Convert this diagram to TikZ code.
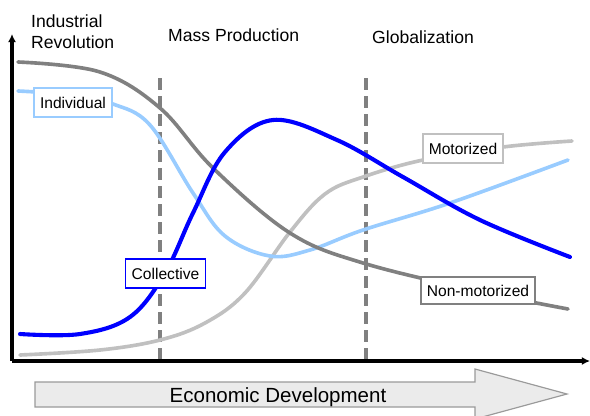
\documentclass[tikz,border=0pt]{standalone}
\usepackage{fontspec}
\setmainfont{Liberation Sans}
\usetikzlibrary{calc}
\usetikzlibrary{arrows.meta}
\definecolor{darkgrey}{HTML}{808080}
\definecolor{lightgrey}{HTML}{C0C0C0}
\definecolor{lightblue}{HTML}{99CCFF}
\definecolor{arrowgrey}{HTML}{9A9A9A}
\definecolor{arrowfill}{HTML}{EBEBEB}

\begin{document}
\begin{tikzpicture} [x=0.03cm, y=-0.03cm,
  curve/.style={line width=3.1pt, smooth, tension=0.6, line cap=round},
  lab/.style={line width=1.6pt, fill=white, inner xsep=5.3pt, minimum height=0.85cm, font=\fontsize{13.3}{16}\selectfont},
  head/.style={inner sep=0, anchor=base west, font=\fontsize{15}{17}\selectfont},
  era/.style={darkgrey, line width=3pt, dash pattern=on 0.36cm off 0.18cm}]
\useasboundingbox (0,0) rectangle (590,415);

\node[head] (indrev) at (31,27) {Industrial};
\node[head] (revol) at (31,48) {Revolution};
\node[head] (mass) at (168,41) {Mass Production};
\node[head] (glob) at (372,43) {Globalization};

\coordinate (o) at (12,361);
\coordinate (era1) at (160,78);
\coordinate (era2) at (366,78);
\draw[era] (era1) -- (era1 |- o);
\draw[era] (era2) -- (era2 |- o);

\draw[lightgrey, curve] plot coordinates {(20,355) (100,350) (160,340) (205,323) (245,293) (290,232) (325,194) (363,177) (423,160) (503,147) (572,141)};
\draw[lightblue, curve] plot coordinates {(18,91) (73,95) (113,104) (150,125) (193,193) (225,236) (270,256) (310,250) (363,230) (450,203) (568,160)};
\draw[darkgrey, curve] plot coordinates {(18,62) (100,72) (160,108) (213,168) (290,233) (363,263) (478,291) (568,309)};
\draw[blue, curve, line width=3.5pt] plot coordinates {(20,334) (80,334) (130,317) (165,273) (193,213) (225,152) (273,120) (337,140) (403,177) (480,220) (570,257)};

\node[lab, draw=lightblue] (individual) at (73,102.5) {Individual};
\node[lab, draw=blue] (collective) at (165.5,273.5) {Collective};
\node[lab, draw=lightgrey] (motorized) at (463,148.5) {Motorized};
\node[lab, draw=darkgrey, minimum height=0.81cm] (nonmotor) at (478,290.5) {Non-motorized};

\draw[black, line width=2.6pt, -{Latex[length=7pt,width=7pt]}] (o) -- (12,34);
\draw[black, line width=2.6pt, -{Latex[length=7pt,width=7pt]}] (o) -- (590,361);

\draw[arrowgrey, fill=arrowfill, line width=1pt] (35,382) -- (475,382) -- (475,369) -- (567,394) -- (475,419) -- (475,407) -- (35,407) -- cycle;
\node[inner sep=0, anchor=base, font=\fontsize{17.5}{20}\selectfont] (econ) at (278,402) {Economic Development};

\end{tikzpicture}
\end{document}
